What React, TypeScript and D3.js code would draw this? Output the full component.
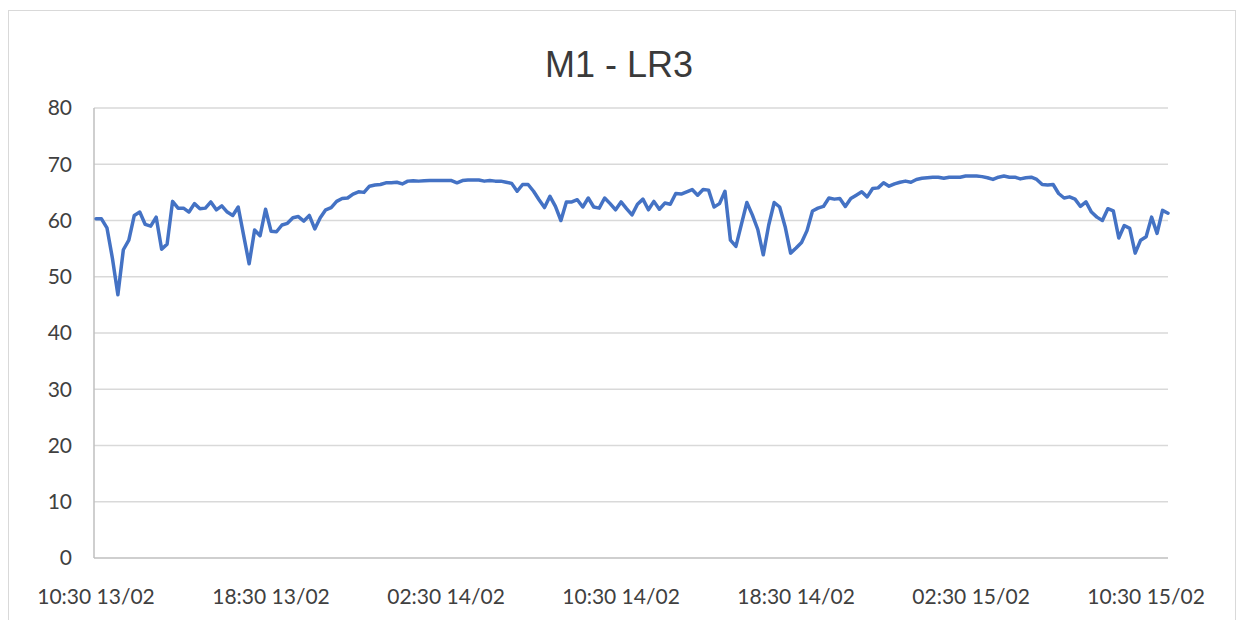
import React from "react";
import * as d3 from "d3";

const title = "M1 - LR3";
const startTime = new Date(2024, 1, 13, 10, 30);
const stepMinutes = 15;
const tickEvery = 32;
const yTicks = [0, 10, 20, 30, 40, 50, 60, 70, 80];

const values = [
  60.3, 60.3, 58.7, 53.3, 46.8, 54.8, 56.5, 60.9, 61.5, 59.3,
  59.0, 60.6, 54.9, 55.8, 63.4, 62.2, 62.2, 61.5, 63.0, 62.1,
  62.2, 63.3, 61.9, 62.6, 61.5, 60.9, 62.4, 57.3, 52.3, 58.3,
  57.3, 62.0, 58.1, 58.0, 59.2, 59.5, 60.5, 60.7, 59.9, 60.9,
  58.5, 60.5, 61.9, 62.3, 63.4, 63.9, 64.0, 64.7, 65.1, 65.0,
  66.1, 66.3, 66.4, 66.7, 66.7, 66.8, 66.5, 67.0, 67.05, 67.0,
  67.05, 67.1, 67.1, 67.1, 67.1, 67.1, 66.7, 67.1, 67.2, 67.2,
  67.2, 67.0, 67.1, 67.0, 67.0, 66.8, 66.6, 65.2, 66.4, 66.4,
  65.2, 63.7, 62.3, 64.3, 62.5, 60.0, 63.3, 63.3, 63.7, 62.4,
  64.0, 62.4, 62.2, 64.0, 63.0, 61.9, 63.3, 62.1, 61.0, 62.9,
  63.8, 61.9, 63.4, 62.0, 63.1, 62.9, 64.8, 64.7, 65.1, 65.5,
  64.5, 65.5, 65.4, 62.4, 63.0, 65.2, 56.5, 55.4, 59.3, 63.2,
  61.0, 58.4, 53.9, 59.2, 63.2, 62.4, 58.9, 54.2, 55.1, 56.1,
  58.2, 61.7, 62.2, 62.5, 64.0, 63.8, 63.9, 62.5, 63.9, 64.5,
  65.1, 64.2, 65.7, 65.8, 66.7, 66.1, 66.5, 66.8, 67.0, 66.8,
  67.3, 67.5, 67.6, 67.7, 67.7, 67.5, 67.7, 67.7, 67.7, 67.9,
  67.9, 67.9, 67.8, 67.6, 67.3, 67.7, 67.9, 67.7, 67.7, 67.4,
  67.6, 67.7, 67.3, 66.4, 66.3, 66.4, 64.8, 64.0, 64.2, 63.8,
  62.5, 63.3, 61.5, 60.6, 60.0, 62.1, 61.7, 56.9, 59.1, 58.6,
  54.2, 56.5, 57.1, 60.6, 57.7, 61.8, 61.3,
];

const fmt = d3.timeFormat("%H:%M %d/%m");
const categories = values.map((_, i) =>
  fmt(d3.timeMinute.offset(startTime, i * stepMinutes))
);

const W = 1244;
const H = 620;
const plotLeft = 94;
const plotRight = 1168;
const plotTop = 108;
const plotBottom = 558;

export default function App() {
  const x = d3
    .scalePoint<string>()
    .domain(categories)
    .range([96, plotRight]);
  const y = d3.scaleLinear().domain([0, 80]).range([plotBottom, plotTop]);

  const line = d3
    .line<number>()
    .x((_, i) => x(categories[i]) as number)
    .y((d) => y(d));

  const xTicks = categories.filter((_, i) => i % tickEvery === 0);

  const textColor = "#404040";
  const font = "Lato, 'Open Sans', sans-serif";

  return (
    <svg
      width={W}
      height={H}
      style={{ position: "absolute", left: 0, top: 0, background: "#fff" }}
    >
      <rect x={0} y={0} width={W} height={H} fill="#fff" />
      <rect
        x={8.5}
        y={10.5}
        width={1227}
        height={H + 10}
        fill="none"
        stroke="#d9d9d9"
        strokeWidth={1}
      />
      <text
        x={619}
        y={77}
        textAnchor="middle"
        fontFamily="'Liberation Sans', Arial, sans-serif"
        fontSize={36}
        fill="#3a3a3a"
      >
        {title}
      </text>
      {yTicks.map((t) => (
        <g key={t}>
          {t > 0 && (
            <line
              x1={plotLeft}
              x2={plotRight}
              y1={y(t)}
              y2={y(t)}
              stroke="#d9d9d9"
              strokeWidth={1.5}
            />
          )}
          <text
            x={72}
            y={y(t)}
            dy="0.35em"
            textAnchor="end"
            fontFamily={font}
            fontSize={21}
            fill={textColor}
          >
            {t}
          </text>
        </g>
      ))}
      <line
        x1={plotLeft}
        x2={plotLeft}
        y1={plotTop}
        y2={plotBottom}
        stroke="#bfbfbf"
        strokeWidth={1.5}
      />
      <line
        x1={plotLeft}
        x2={plotRight}
        y1={plotBottom}
        y2={plotBottom}
        stroke="#bfbfbf"
        strokeWidth={1.5}
      />
      {xTicks.map((c) => (
        <text
          key={c}
          x={x(c) as number}
          y={604}
          textAnchor="middle"
          fontFamily={font}
          fontSize={21}
          fill={textColor}
        >
          {c}
        </text>
      ))}
      <path
        d={line(values) || ""}
        fill="none"
        stroke="#4472C4"
        strokeWidth={3.5}
        strokeLinejoin="round"
        strokeLinecap="round"
      />
    </svg>
  );
}
